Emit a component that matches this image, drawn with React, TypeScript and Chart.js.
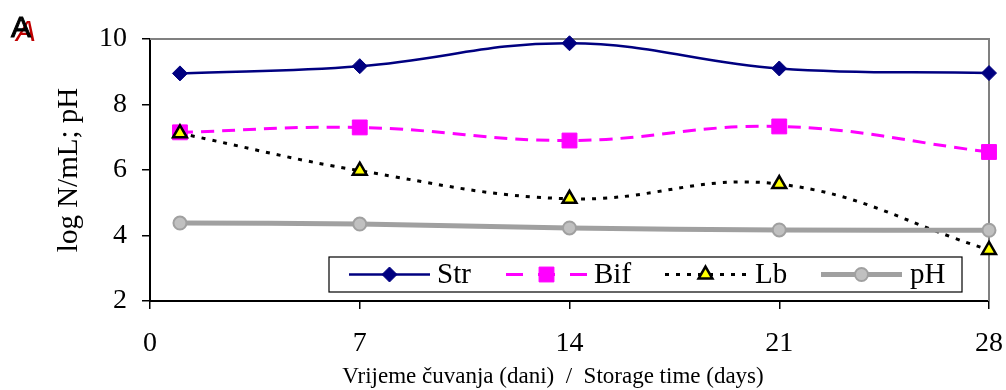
import React, { useEffect, useRef } from 'react';
import { Chart, registerables } from 'chart.js';

Chart.register(...registerables);

const days = [1, 7, 14, 21, 28];
const strValues = [8.95, 9.17, 9.87, 9.1, 8.96];
const bifValues = [7.15, 7.3, 6.9, 7.33, 6.55];
const lbValues = [7.12, 5.98, 5.12, 5.57, 3.56];
const phValues = [4.38, 4.35, 4.23, 4.17, 4.16];
const seriesLabels = ['Str', 'Bif', 'Lb', 'pH'];
const xTicks = [0, 7, 14, 21, 28];
const yTicks = [2, 4, 6, 8, 10];
const yTitle = 'log N/mL; pH';
const xTitle = 'Vrijeme čuvanja (dani)  /  Storage time (days)';
const panelLabel = 'A';

const SERIF = '"Liberation Serif", "Times New Roman", serif';

function drawMarker(ctx: CanvasRenderingContext2D, ds: any, x: number, y: number) {
  const r = ds.pointRadius;
  const style = ds.pointStyle;
  ctx.save();
  ctx.beginPath();
  if (style === 'rectRot') {
    ctx.moveTo(x - r, y);
    ctx.lineTo(x, y - r);
    ctx.lineTo(x + r, y);
    ctx.lineTo(x, y + r);
    ctx.closePath();
  } else if (style === 'rect') {
    const s = Math.SQRT1_2 * r;
    ctx.rect(x - s, y - s, 2 * s, 2 * s);
  } else if (style === 'triangle') {
    ctx.moveTo(x, y - r);
    ctx.lineTo(x + r * Math.cos(Math.PI / 6), y + r / 2);
    ctx.lineTo(x - r * Math.cos(Math.PI / 6), y + r / 2);
    ctx.closePath();
  } else {
    ctx.arc(x, y, r, 0, Math.PI * 2);
  }
  ctx.fillStyle = ds.pointBackgroundColor;
  ctx.fill();
  if (ds.pointBorderWidth > 0) {
    ctx.lineWidth = ds.pointBorderWidth;
    ctx.strokeStyle = ds.pointBorderColor;
    ctx.stroke();
  }
  ctx.restore();
}

const framePlugin = {
  id: 'frame',
  beforeDatasetsDraw(chart: any) {
    const { ctx, chartArea } = chart;
    ctx.save();
    ctx.strokeStyle = '#808080';
    ctx.lineWidth = 2;
    ctx.beginPath();
    ctx.moveTo(chartArea.left, chartArea.top);
    ctx.lineTo(chartArea.right, chartArea.top);
    ctx.lineTo(chartArea.right, chartArea.bottom);
    ctx.stroke();
    ctx.restore();
  },
  afterDraw(chart: any) {
    const { ctx } = chart;
    ctx.save();
    // x-axis title
    ctx.fillStyle = '#000';
    ctx.font = `23px ${SERIF}`;
    ctx.textAlign = 'center';
    ctx.textBaseline = 'middle';
    ctx.fillText(xTitle, 553, 377);
    // panel label
    ctx.font = `italic 30px "Liberation Sans", Arial, sans-serif`;
    ctx.fillStyle = '#C00000';
    ctx.textAlign = 'left';
    ctx.textBaseline = 'alphabetic';
    ctx.fillText(panelLabel, 16, 41);
    ctx.font = `30px "Liberation Sans", Arial, sans-serif`;
    ctx.fillStyle = '#000';
    ctx.fillText(panelLabel, 11, 37);
    ctx.strokeStyle = '#000';
    ctx.lineWidth = 1;
    ctx.strokeText(panelLabel, 11, 37);

    // legend
    const box = { l: 329, t: 257, r: 962, b: 292 };
    ctx.fillStyle = '#fff';
    ctx.fillRect(box.l, box.t, box.r - box.l, box.b - box.t);
    ctx.strokeStyle = '#000';
    ctx.lineWidth = 1.2;
    ctx.strokeRect(box.l, box.t, box.r - box.l, box.b - box.t);
    const cy = (box.t + box.b) / 2;
    const lineStarts = [349, 506, 665, 821];
    const lineLen = 81;
    const textX = [437, 594, 755, 910];
    chart.data.datasets.forEach((ds: any, i: number) => {
      ctx.save();
      ctx.strokeStyle = ds.borderColor;
      ctx.lineWidth = ds.borderWidth;
      ctx.setLineDash(ds.legendDash || ds.borderDash || []);
      ctx.lineCap = 'butt';
      ctx.beginPath();
      ctx.moveTo(lineStarts[i], cy);
      ctx.lineTo(lineStarts[i] + lineLen, cy);
      ctx.stroke();
      ctx.restore();
      drawMarker(ctx, ds, lineStarts[i] + lineLen / 2, cy);
      ctx.fillStyle = '#000';
      ctx.font = `29px ${SERIF}`;
      ctx.textAlign = 'left';
      ctx.textBaseline = 'middle';
      ctx.fillText(ds.label, textX[i], cy + 1);
    });
    ctx.restore();
  },
};

export default function App() {
  const canvasRef = useRef<HTMLCanvasElement | null>(null);

  useEffect(() => {
    const canvas = canvasRef.current;
    if (!canvas) return;
    const toPts = (vals: number[]) => days.map((d, i) => ({ x: d, y: vals[i] }));
    const chart = new Chart(canvas, {
      type: 'line',
      data: {
        datasets: [
          {
            label: seriesLabels[0],
            data: toPts(strValues),
            borderColor: '#000080',
            borderWidth: 2.5,
            pointStyle: 'rectRot',
            pointRadius: 7.5,
            pointBackgroundColor: '#000080',
            pointBorderColor: '#000080',
            pointBorderWidth: 1,
            tension: 0.4,
            order: 4,
            clip: false as any,
          },
          {
            label: seriesLabels[1],
            data: toPts(bifValues),
            borderColor: '#FF00FF',
            borderWidth: 3,
            borderDash: [13, 8],
            legendDash: [17, 15],
            pointStyle: 'rect',
            pointRadius: 10.5,
            pointBackgroundColor: '#FF00FF',
            pointBorderColor: '#FF00FF',
            pointBorderWidth: 1,
            tension: 0.4,
            order: 3,
            clip: false as any,
          } as any,
          {
            label: seriesLabels[2],
            data: toPts(lbValues),
            borderColor: '#000000',
            borderWidth: 3,
            borderDash: [4, 7],
            pointStyle: 'triangle',
            pointRadius: 8,
            pointBackgroundColor: '#FFFF00',
            pointBorderColor: '#000000',
            pointBorderWidth: 2.5,
            tension: 0.4,
            order: 2,
            clip: false as any,
          },
          {
            label: seriesLabels[3],
            data: toPts(phValues),
            borderColor: '#A0A0A0',
            borderWidth: 5,
            pointStyle: 'circle',
            pointRadius: 6.5,
            pointBackgroundColor: '#C0C0C0',
            pointBorderColor: '#A0A0A0',
            pointBorderWidth: 2,
            tension: 0.4,
            order: 1,
            clip: false as any,
          },
        ],
      },
      options: {
        animation: false,
        responsive: false,
        maintainAspectRatio: false,
        layout: { padding: { top: 39, right: 17, bottom: 0, left: 0 } },
        plugins: {
          legend: { display: false },
          tooltip: { enabled: false },
        },
        scales: {
          x: {
            type: 'linear',
            min: 0,
            max: 28,
            afterBuildTicks: (s: any) => {
              s.ticks = xTicks.map((v) => ({ value: v }));
            },
            afterFit: (s: any) => {
              s.height = 89;
              s.paddingLeft = 0;
              s.paddingRight = 0;
            },
            grid: {
              display: true,
              drawOnChartArea: false,
              drawTicks: true,
              tickLength: 8,
              color: '#000',
              lineWidth: 1.5,
            },
            border: { display: true, color: '#000', width: 2 },
            ticks: {
              color: '#000',
              font: { family: SERIF, size: 28 },
              padding: 18,
              maxRotation: 0,
              autoSkip: false,
            },
          },
          y: {
            type: 'linear',
            min: 2,
            max: 10,
            afterBuildTicks: (s: any) => {
              s.ticks = yTicks.map((v) => ({ value: v }));
            },
            afterFit: (s: any) => {
              s.width = 150;
              s.paddingTop = 0;
              s.paddingBottom = 0;
            },
            grid: {
              display: true,
              drawOnChartArea: false,
              drawTicks: true,
              tickLength: 8,
              color: '#000',
              lineWidth: 1.5,
            },
            border: { display: true, color: '#000', width: 2 },
            ticks: {
              color: '#000',
              font: { family: SERIF, size: 28 },
              padding: 15,
            },
            title: {
              display: true,
              text: yTitle,
              color: '#000',
              font: { family: SERIF, size: 29 },
              padding: { top: 52, bottom: 0 },
            },
          },
        },
      },
      plugins: [framePlugin],
    });
    return () => chart.destroy();
  }, []);

  return (
    <div style={{ position: 'absolute', left: 0, top: 0, width: 1006, height: 390, background: '#fff' }}>
      <canvas ref={canvasRef} width={1006} height={390} />
    </div>
  );
}
